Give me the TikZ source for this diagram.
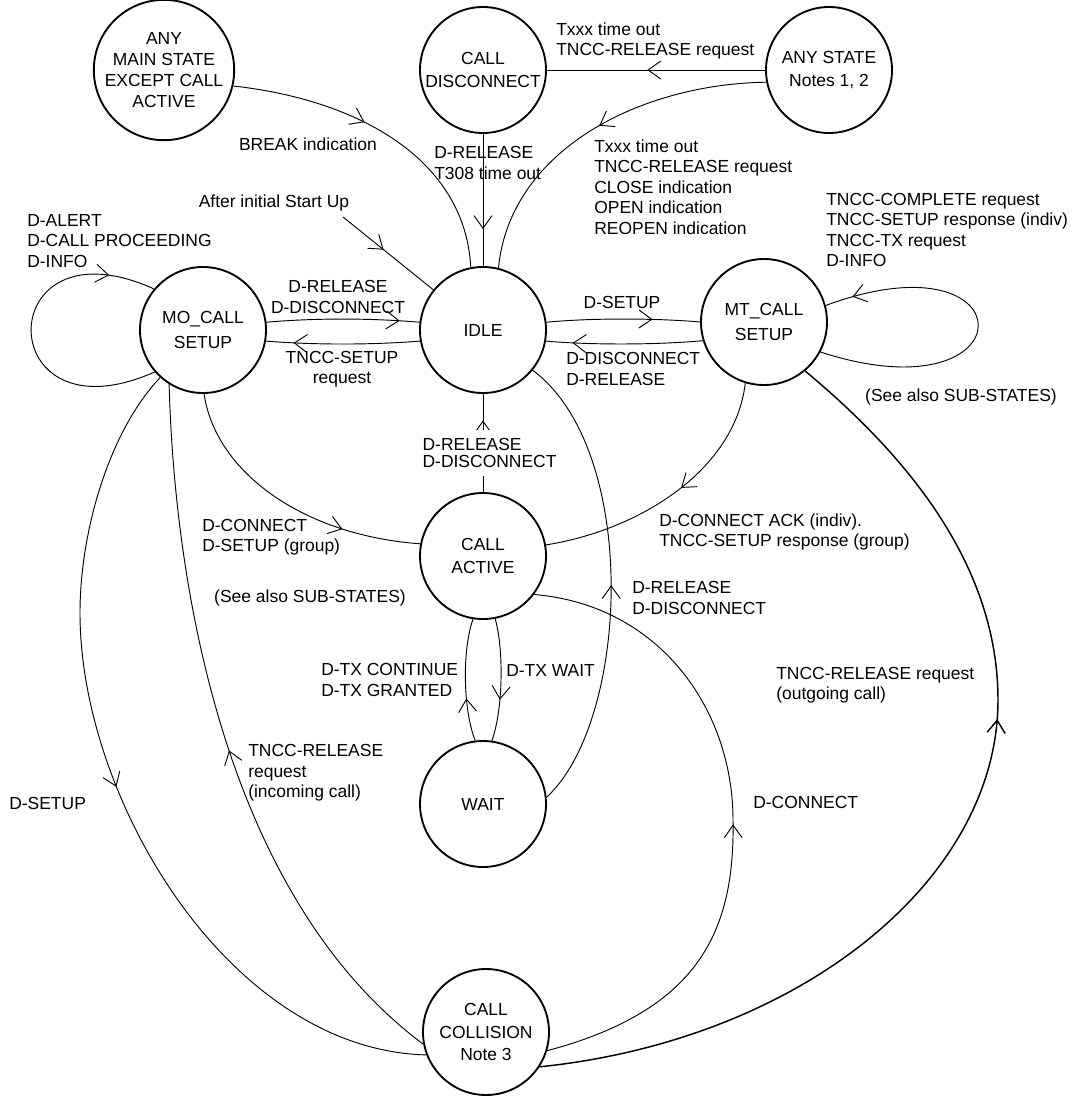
\documentclass[tikz,border=0pt]{standalone}
\usepackage{fontspec}
\setmainfont{Liberation Sans}
\usetikzlibrary{arrows.meta,decorations.markings}
\newcommand{\lblfont}{\fontsize{13.1pt}{15.3pt}\selectfont}
\newcommand{\stfont}{\fontsize{13.1pt}{17pt}\selectfont}
\tikzset{
  state/.style={circle, draw, line width=1.4pt, minimum size=94.5pt, inner sep=0pt, align=center, font=\stfont},
  conn/.style={line width=0.7pt},
  tipat/.style={postaction={decorate, decoration={markings, mark=at position #1 with {\arrow{Straight Barb[length=9.5pt,width=13.5pt]}}}}},
  lbl/.style={inner sep=0pt, align=left, font=\lblfont},
  lblc/.style={inner sep=0pt, align=center, font=\lblfont},
}
\begin{document}
\begin{tikzpicture}[x=0.75pt,y=-0.75pt]
\useasboundingbox (0,0) rectangle (1072,1097);
% states
\node[state, font=\fontsize{13.1pt}{15.8pt}\selectfont] (anymain) at (164,70) {ANY\\MAIN STATE\\EXCEPT CALL\\ACTIVE};
\node[state] (disc) at (483,70) {CALL\\DISCONNECT};
\node[state] (anyst) at (829,70) {ANY STATE\\Notes 1, 2};
\node[state] (mo) at (203,330) {MO\_CALL\\[2pt]SETUP};
\node[state] (idle) at (483,330) {IDLE};
\node[state] (mt) at (764,322) {MT\_CALL\\[2pt]SETUP};
\node[state] (act) at (483,556) {CALL\\ACTIVE};
\node[state] (wait) at (483,804) {WAIT};
\node[state] (coll) at (486,1032) {CALL\\COLLISION\\Note 3};
\coordinate (su) at (343,217);
\coordinate (w1) at (733,820);
\coordinate (w2) at (80,613);
\coordinate (w3) at (998,700);
% connectors
\draw[conn, tipat=0.42] (anymain.-13) .. controls (360,100) and (465,160) .. (idle.101);
\draw[conn, tipat=0.72] (disc.-90) -- (idle.90);
\draw[conn, tipat=0.54] (anyst.180) -- (disc.0);
\draw[conn, tipat=0.49] (anyst.191) .. controls (640,84) and (510,150) .. (idle.76);
\draw[conn, tipat=0.45] (su) -- (idle.141);
\draw[conn, tipat=0.87] (mo.7) .. controls (315,318) and (370,318) .. (idle.173);
\draw[conn, tipat=0.82] (idle.190) .. controls (370,345) and (315,345) .. (mo.-10);
\draw[conn, tipat=0.69] (idle.7) .. controls (590,318) and (655,318) .. (mt.180);
\draw[conn, tipat=0.83] (mt.197) .. controls (655,345) and (590,345) .. (idle.-10);
\draw[conn, tipat=0.85] (mo.221) .. controls (-10,445) and (-10,215) .. (mo.140);
\draw[conn, tipat=0.92] (mt.-28) .. controls (1030,420) and (1030,230) .. (mt.15);
\draw[conn, tipat=0.72] (mo.-89) .. controls (215,470) and (300,535) .. (act.169);
\draw[conn, tipat=0.46] (mt.253) .. controls (735,470) and (640,530) .. (act.10);
\draw[conn, tipat=0.73] (act.90) -- (idle.-90);
\draw[conn, tipat=0.49] (wait.6) .. controls (630,720) and (640,450) .. (idle.-39);
\draw[conn, tipat=0.35] (wait.97) .. controls (463,710) and (462,650) .. (act.261);
\draw[conn, tipat=0.66] (act.281) .. controls (504,650) and (503,710) .. (wait.82);
\draw[conn, tipat=0.49] (coll.-17) .. controls (700,1010) and (735,930) .. (w1) .. controls (733,710) and (660,605) .. (act.-37);
\draw[conn, tipat=0.5] (mo.228) .. controls (110,430) and (80,530) .. (w2) .. controls (80,800) and (230,1050) .. (coll.201);
\draw[conn, tipat=0.49] (coll.191) .. controls (230,900) and (175,600) .. (mo.238);
\draw[conn, line width=1.1pt, tipat=0.6] (coll.-33) .. controls (800,1040) and (998,880) .. (w3) .. controls (998,560) and (900,450) .. (mt.-50);
% labels
\node[lblc] (l1) at (308,144) {BREAK indication};
\node[lbl, anchor=west] (l2) at (434,163) {D-RELEASE\\T308 time out};
\node[lbl, anchor=west] (l3) at (556,41) {Txxx time out\\TNCC-RELEASE request};
\node[lbl, anchor=west] (l4) at (594,187) {Txxx time out\\TNCC-RELEASE request\\CLOSE indication\\OPEN indication\\REOPEN indication};
\node[lblc] (l5) at (274,203) {After initial Start Up};
\node[lbl, anchor=west] (l6) at (27,241) {D-ALERT\\D-CALL PROCEEDING\\D-INFO};
\node[lblc] (l7) at (338,297) {D-RELEASE\\D-DISCONNECT};
\node[lblc] (l8) at (342,369) {TNCC-SETUP\\request};
\node[lblc] (l9) at (622,302) {D-SETUP};
\node[lbl, anchor=west] (l10) at (566,369) {D-DISCONNECT\\D-RELEASE};
\node[lbl, anchor=west] (l11) at (826,230) {TNCC-COMPLETE request\\TNCC-SETUP response (indiv)\\TNCC-TX request\\D-INFO};
\node[lblc] (l12) at (961,397) {(See also SUB-STATES)};
\node[lbl, anchor=west, fill=white, inner xsep=1pt, inner ysep=6pt, font=\fontsize{13.1pt}{12.5pt}\selectfont] (l13) at (421,453) {D-RELEASE\\D-DISCONNECT};
\node[lbl, anchor=west] (l14) at (202,537) {D-CONNECT\\D-SETUP (group)};
\node[lbl, anchor=west] (l15) at (659,532) {D-CONNECT ACK (indiv).\\TNCC-SETUP response (group)};
\node[lblc] (l16) at (310,598) {(See also SUB-STATES)};
\node[lbl, anchor=west] (l17) at (632,598) {D-RELEASE\\D-DISCONNECT};
\node[lbl, anchor=west] (l18) at (321,680) {D-TX CONTINUE\\D-TX GRANTED};
\node[lbl, anchor=west] (l19) at (506,670) {D-TX WAIT};
\node[lbl, anchor=west] (l20) at (776,685) {TNCC-RELEASE request\\(outgoing call)};
\node[lbl, anchor=west] (l21) at (248,773) {TNCC-RELEASE\\request\\(incoming call)};
\node[lbl, anchor=west] (l22) at (9,803) {D-SETUP};
\node[lbl, anchor=west] (l23) at (753,802) {D-CONNECT};
\end{tikzpicture}
\end{document}
